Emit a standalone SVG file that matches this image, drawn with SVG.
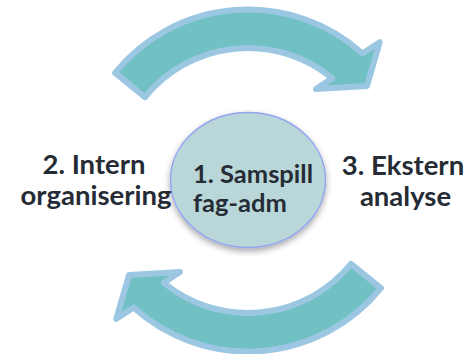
<svg xmlns="http://www.w3.org/2000/svg" xmlns:xlink="http://www.w3.org/1999/xlink" width="467" height="354" viewBox="0 0 467 354">
  <style>
    .arrow { fill: #71C0C3; stroke: #9CC7E3; stroke-width: 6; stroke-linejoin: round; }
    .hub { fill: #B9D7D8; stroke: #93A3F0; stroke-width: 1.5; }
    .lbl { font-family: Lato, "Liberation Sans", sans-serif; font-weight: bold; fill: #262C35; }
    .side { font-size: 27.5px; text-anchor: middle; }
    .mid { font-size: 25.5px; }
  </style>
  <defs>
    <filter id="shadow" x="-20%" y="-20%" width="140%" height="150%">
      <feGaussianBlur in="SourceAlpha" stdDeviation="3"/>
      <feOffset dx="0" dy="3" result="b"/>
      <feComponentTransfer><feFuncA type="linear" slope="0.35"/></feComponentTransfer>
      <feMerge><feMergeNode/><feMergeNode in="SourceGraphic"/></feMerge>
    </filter>
    <path id="arc-arrow" d="M115.1,72.9 A171,171 0 0 1 362.4,53.4 L379.7,42.2 L367,85.9 L316,89 L332.3,78.3 A132.5,132.5 0 0 0 145,97.1 Z"/>
  </defs>
  <g id="connectors">
    <use xlink:href="#arc-arrow" class="arrow" id="arrow-top"/>
    <use xlink:href="#arc-arrow" class="arrow" id="arrow-bottom" transform="rotate(180 248 180.5)"/>
  </g>
  <g id="node-1">
    <ellipse class="hub" cx="248" cy="180" rx="77.5" ry="67.5" filter="url(#shadow)"/>
    <text class="lbl mid" x="193" y="183">1. Samspill</text>
    <text class="lbl mid" x="193" y="211.5">fag-adm</text>
  </g>
  <g id="node-2">
    <text class="lbl side" x="94" y="173.5">2. Intern</text>
    <text class="lbl side" x="96" y="205">organisering</text>
  </g>
  <g id="node-3">
    <text class="lbl side" x="403" y="174.5">3. Ekstern</text>
    <text class="lbl side" x="405.5" y="205.5">analyse</text>
  </g>
</svg>
